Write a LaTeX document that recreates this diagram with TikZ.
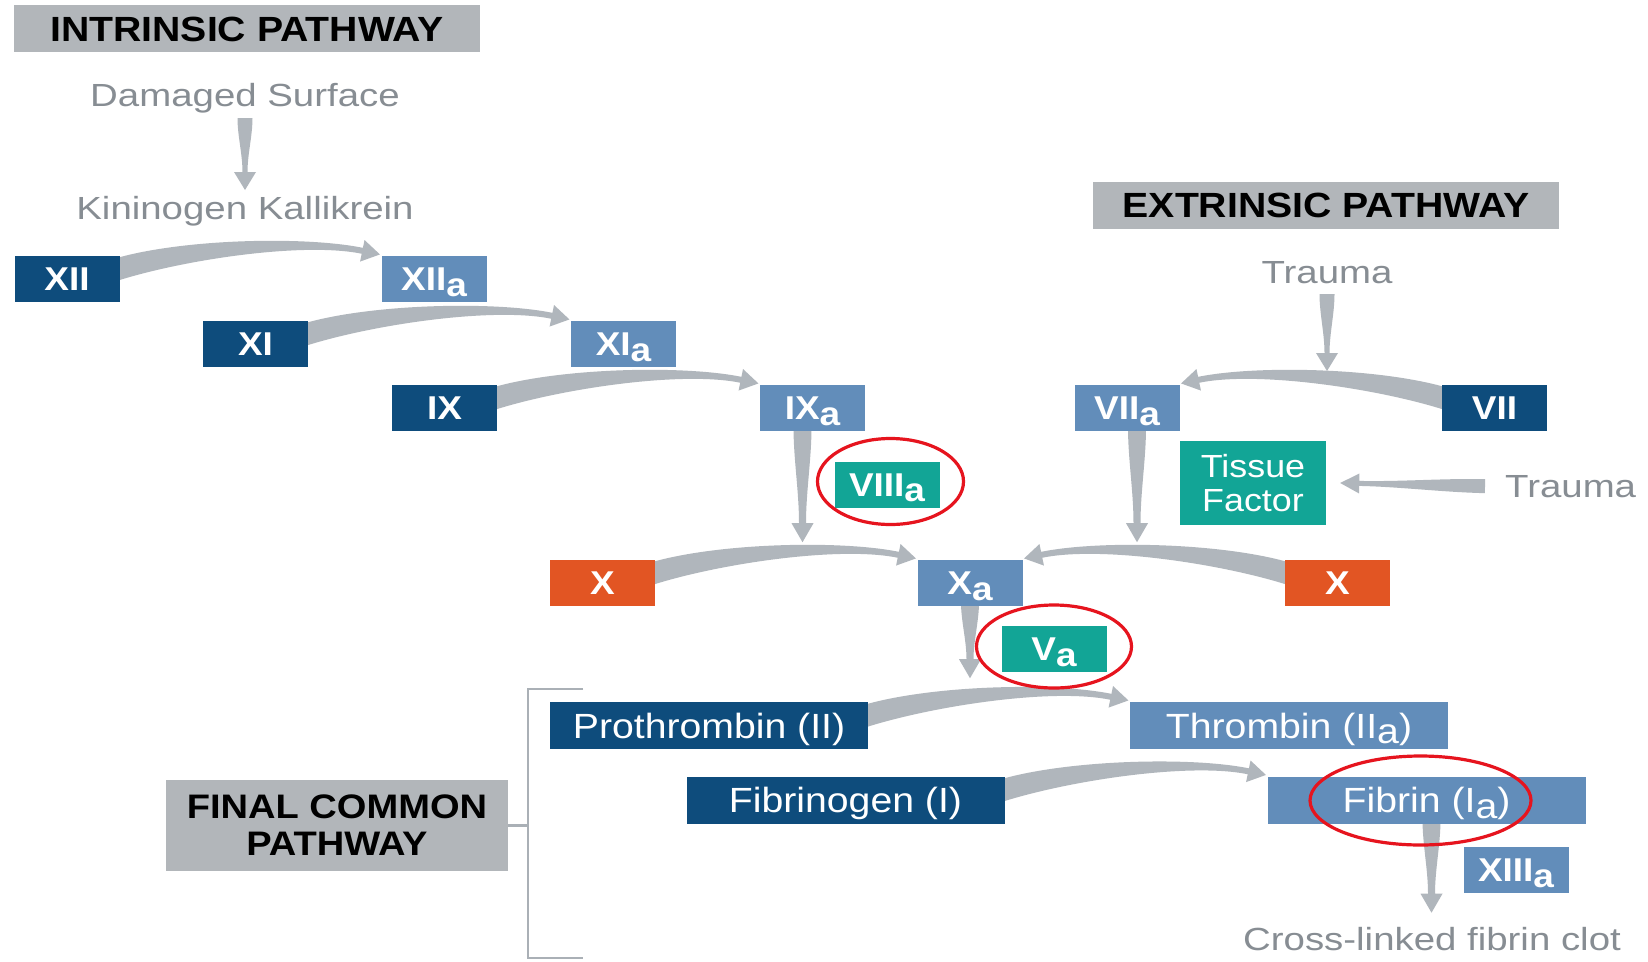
\documentclass[tikz,border=0pt]{standalone}
\usepackage{fontspec}
\setmainfont{Liberation Sans}[FakeStretch=1.12]
\newfontfamily\grayfont{Liberation Sans}[FakeStretch=1.2]
\usetikzlibrary{calc,backgrounds}
\definecolor{dblue}{RGB}{14,76,124}
\definecolor{lblue}{RGB}{98,141,186}
\definecolor{tealc}{RGB}{18,165,150}
\definecolor{orangec}{RGB}{226,85,35}
\definecolor{hgray}{RGB}{178,182,186}
\definecolor{agray}{RGB}{176,182,188}
\definecolor{tgray}{RGB}{135,141,147}
\definecolor{bgray}{RGB}{170,176,182}
\definecolor{ringred}{RGB}{230,20,30}
\newcommand\sub[1]{\raisebox{-0.16em}{#1}}
% tapered arrow: #1 start, #2 control 1, #3 control 2, #4 head base, #5 start half width, #6 end half width, #7 head half width, #8 head length
\newcommand\taparrow[8]{%
  \path (#1) coordinate (tS) (#2) coordinate (tA) (#3) coordinate (tB) (#4) coordinate (tE);
  \path ($(tS)!#5!90:(tA)$) coordinate (tS1) ($(tS)!#5!-90:(tA)$) coordinate (tS2)
        ($(tE)!#6!-90:(tB)$) coordinate (tE1) ($(tE)!#6!90:(tB)$) coordinate (tE2)
        ($(tE)!#7!-90:(tB)$) coordinate (tH1) ($(tE)!#7!90:(tB)$) coordinate (tH2)
        ($(tE)!#8!180:(tB)$) coordinate (tT);
  \fill[arrowfill] (tS1) .. controls ($(tA)+(tS1)-(tS)$) and ($(tB)+(tE1)-(tE)$) .. (tE1)
     -- (tH1) -- (tT) -- (tH2) -- (tE2)
     .. controls ($(tB)+(tE2)-(tE)$) and ($(tA)+(tS2)-(tS)$) .. (tS2) -- cycle;
}
\newcommand\arcLR[2]{\taparrow{$(#1.east)+(-8,-8)$}{$(#1.east)+(60,-30)$}{$(#2.north west)+(-77,-17)$}{$(#2.north west)+(-19,-5)$}{11pt}{3pt}{11pt}{18pt}}
\newcommand\arcRL[2]{\taparrow{$(#1.west)+(8,-8)$}{$(#1.west)+(-60,-30)$}{$(#2.north east)+(77,-17)$}{$(#2.north east)+(19,-5)$}{11pt}{3pt}{11pt}{18pt}}
\newcommand\straight[6]{%
  \path (#1) coordinate (sS) (#2) coordinate (sT);
  \path ($(sT)!#6!(sS)$) coordinate (sE);
  \taparrow{sS}{$(sS)!0.33!(sE)$}{$(sS)!0.67!(sE)$}{sE}{#3}{#4}{#5}{#6}}
\tikzset{
  basebox/.style={rectangle, inner sep=0pt, text=white},
  dark/.style={basebox, fill=dblue},
  light/.style={basebox, fill=lblue},
  tealbox/.style={basebox, fill=tealc},
  orangebox/.style={basebox, fill=orangec},
  small/.style={minimum width=105pt, minimum height=46pt, font=\fontsize{33}{36}\selectfont\bfseries, text height=23.6pt, text depth=0pt},
  long/.style={minimum width=318pt, minimum height=47pt, font=\fontsize{35}{40}\selectfont, text height=25pt, text depth=0pt},
  hdr/.style={rectangle, fill=hgray, inner sep=0pt, minimum height=47pt, font=\fontsize{35}{40}\selectfont\bfseries, text height=25pt, text depth=0pt, text=black},
  graytext/.style={inner sep=0pt, text=tgray, font={\grayfont\fontsize{32}{36}\selectfont}, anchor=base},
  arrowfill/.style={fill=agray},
  redring/.style={draw=ringred, line width=3.2pt},
  bracketline/.style={draw=bgray, line width=2.5pt}
}
\begin{document}
\begin{tikzpicture}[x=1pt, y=-1pt]
\useasboundingbox (0,0) rectangle (1648,961);
% headers and texts
\node[hdr, minimum width=466pt] (intr) at (247,28.5) {INTRINSIC PATHWAY};
\node[graytext] (dmg) at (245,106) {Damaged Surface};
\node[graytext] (kin) at (245,219) {Kininogen Kallikrein};
\node[hdr, minimum width=466pt] (extr) at (1326,205) {EXTRINSIC PATHWAY};
\node[graytext] (tr1) at (1327,283) {Trauma};
\node[graytext, anchor=base west] (tr2) at (1505,497) {Trauma};
\node[graytext] (clot) at (1432,950) {Cross-linked fibrin clot};
\node[rectangle, fill=hgray, inner sep=0pt, minimum width=342pt, minimum height=91pt, align=center, font=\fontsize{34}{37}\selectfont\bfseries, text=black] (fin) at (337,825.5) {FINAL COMMON\\PATHWAY};
% intrinsic factors
\node[dark, small] (XII) at (67,279) {XII};
\node[light, small] (XIIa) at (434,279) {XII\sub{a}};
\node[dark, small] (XI) at (255.5,344) {XI};
\node[light, small] (XIa) at (623.5,344) {XI\sub{a}};
\node[dark, small] (IX) at (444.5,408) {IX};
\node[light, small] (IXa) at (812.5,408) {IX\sub{a}};
\node[tealbox, small] (VIIIa) at (887,484.5) {VIII\sub{a}};
% extrinsic factors
\node[light, small] (VIIa) at (1127,408) {VII\sub{a}};
\node[dark, small] (VII) at (1494.5,408) {VII};
\node[tealbox, minimum width=146pt, minimum height=84pt, align=center, font=\fontsize{32}{34}\selectfont] (TF) at (1253,483) {Tissue\\Factor};
% common
\node[orangebox, small] (Xl) at (602.5,583) {X};
\node[light, small] (Xa) at (970,583) {X\sub{a}};
\node[orangebox, small] (Xr) at (1337.5,583) {X};
\node[tealbox, small] (Va) at (1054,649) {V\sub{a}};
\node[dark, long] (pro) at (709,725.5) {Prothrombin (II)};
\node[light, long] (thr) at (1289,725.5) {Thrombin (II\sub{a})};
\node[dark, long] (fbg) at (845.5,800) {Fibrinogen (I)};
\node[light, long] (fib) at (1426.5,800) {Fibrin (I\sub{a})};
\node[light, small] (XIIIa) at (1516,870) {XIII\sub{a}};
% bracket
\coordinate (bt) at (528,689);
\coordinate (bb) at (528,958);
\draw[bracketline] ($(bt)+(55,0)$) -- (bt) -- (bb) -- ($(bb)+(55,0)$);
\draw[bracketline] (fin.east) -- (fin.east -| bt);
% red rings
\draw[redring] ($(VIIIa)+(3.5,-3)$) ellipse [x radius=73, y radius=43];
\draw[redring] ($(Va)+(0,-2.5)$) ellipse [x radius=77.5, y radius=41.5];
\draw[redring] ($(fib)+(-6,0.5)$) ellipse [x radius=110.5, y radius=44.5];
% arrows behind
\begin{pgfonlayer}{background}
\fill[white] (0,0) rectangle (1648,961);
\arcLR{XII}{XIIa}
\arcLR{XI}{XIa}
\arcLR{IX}{IXa}
\arcLR{Xl}{Xa}
\arcLR{pro}{thr}
\arcLR{fbg}{fib}
\arcRL{VII}{VIIa}
\arcRL{Xr}{Xa}
\straight{$(dmg.base)+(0,12)$}{$(kin.base)+(0,-29)$}{7.5pt}{2.5pt}{11pt}{18pt}
\straight{$(tr1.base)+(0,11)$}{$(tr1.base)+(0,88)$}{7.5pt}{2.5pt}{11pt}{18pt}
\straight{$(tr2.west)+(-20,0)$}{$(TF.east)+(14,0)$}{7pt}{2.5pt}{10pt}{19pt}
\straight{$(IXa.south)+(-10,-4)$}{$(IXa.south)+(-10,111)$}{9pt}{3.5pt}{11pt}{19pt}
\straight{$(VIIa.south)+(10,-4)$}{$(VIIa.south)+(10,111)$}{9pt}{3.5pt}{11pt}{19pt}
\straight{$(Xa.south)+(0,-4)$}{$(Xa.south)+(0,72)$}{9pt}{3.5pt}{11pt}{19pt}
\straight{$(fib.south)+(5,-4)$}{$(fib.south)+(5,89)$}{9pt}{3.5pt}{11pt}{19pt}
\end{pgfonlayer}
\end{tikzpicture}
\end{document}
